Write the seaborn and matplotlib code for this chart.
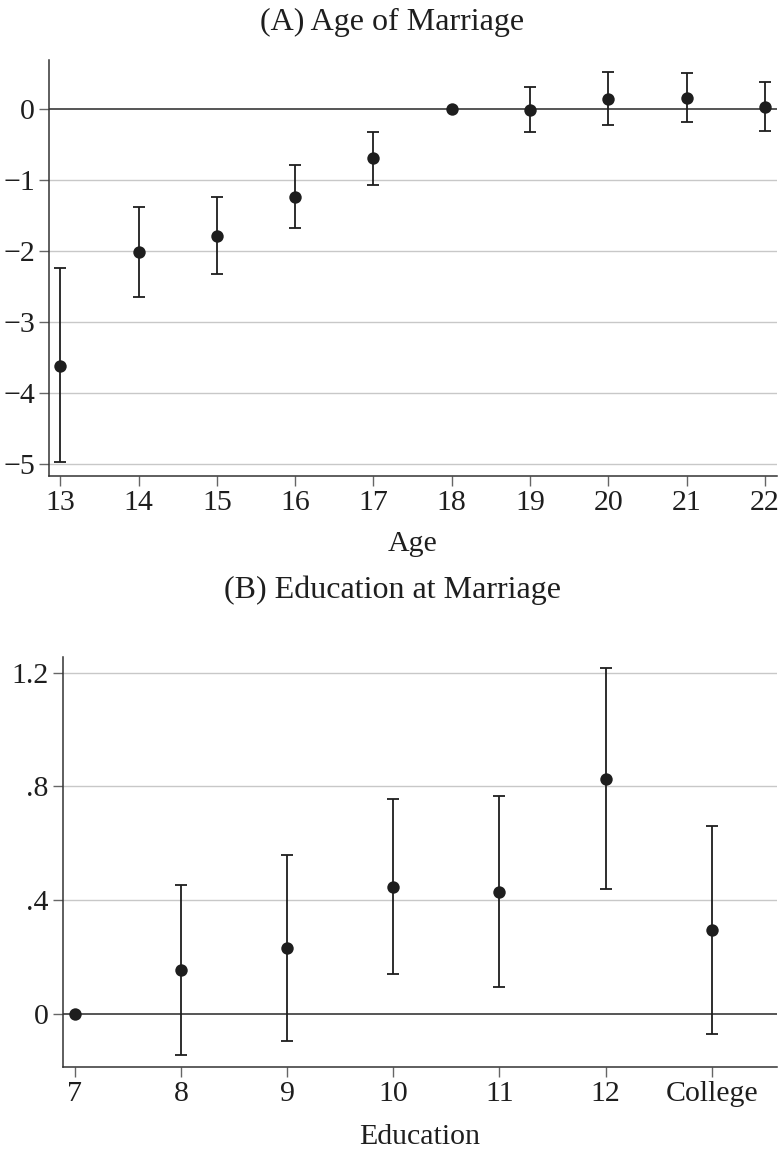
import numpy as np
import pandas as pd
import matplotlib
matplotlib.use("Agg")
import matplotlib.pyplot as plt
import seaborn as sns

# Panel A: age at marriage (18 is the omitted category)
ages = [13, 14, 15, 16, 17, 18, 19, 20, 21, 22]
age_coef = [-3.61, -2.01, -1.78, -1.23, -0.69, 0.0, -0.01, 0.15, 0.163, 0.037]
age_lo = [-4.97, -2.64, -2.32, -1.668, -1.066, np.nan, -0.32, -0.217, -0.179, -0.31]
age_hi = [-2.24, -1.38, -1.23, -0.785, -0.315, np.nan, 0.31, 0.52, 0.507, 0.39]
age_yticks = [0, -1, -2, -3, -4, -5]

# Panel B: education at marriage (7 is the omitted category)
edu_labels = ["7", "8", "9", "10", "11", "12", "College"]
edu_coef = [0.0, 0.155, 0.231, 0.447, 0.43, 0.827, 0.296]
edu_lo = [np.nan, -0.144, -0.095, 0.141, 0.095, 0.438, -0.07]
edu_hi = [np.nan, 0.453, 0.559, 0.756, 0.767, 1.216, 0.662]
edu_yticks = [0, 0.4, 0.8, 1.2]
edu_yticklabels = ["0", ".4", ".8", "1.2"]

sns.set_theme(style="white")
plt.rcParams["font.family"] = ["Liberation Serif", "DejaVu Serif"]
plt.rcParams["axes.unicode_minus"] = True

FS = 21.5
FS_TITLE = 23
INK = "#1e1e1e"
SPINE = "#333333"
GRID = "#c8c8c8"
ZERO = "#555555"

fig = plt.figure(figsize=(7.84, 11.49), dpi=100)
ax_a = fig.add_axes([0.0625, 0.5857, 0.928, 0.362])
ax_b = fig.add_axes([0.080, 0.0711, 0.9107, 0.3574])


def draw_panel(ax, x, coef, lo, hi):
    coef = np.asarray(coef, float)
    lo = np.asarray(lo, float)
    hi = np.asarray(hi, float)
    ok = ~np.isnan(lo)
    ax.errorbar(np.asarray(x)[ok], coef[ok],
                yerr=[coef[ok] - lo[ok], hi[ok] - coef[ok]],
                fmt="none", ecolor=INK, elinewidth=1.3, capsize=4.5,
                capthick=1.3, zorder=3)
    df = pd.DataFrame({"x": x, "y": coef})
    sns.scatterplot(data=df, x="x", y="y", ax=ax, color=INK, s=80,
                    edgecolor=INK, linewidth=0, zorder=4, legend=False)


def style_axes(ax, yticks):
    for s in ("top", "right"):
        ax.spines[s].set_visible(False)
    for s in ("left", "bottom"):
        ax.spines[s].set_color(SPINE)
        ax.spines[s].set_linewidth(1.1)
    ax.set_yticks(yticks)
    for t in yticks:
        if t == 0:
            ax.axhline(0, color=ZERO, lw=1.4, zorder=2)
        else:
            ax.axhline(t, color=GRID, lw=1.0, zorder=1)
    ax.tick_params(axis="both", which="major", direction="out", length=7,
                   width=1.0, color="#666666", labelsize=FS, labelcolor=INK,
                   left=True, bottom=True, pad=3)
    ax.set_ylabel("")


# Panel A
draw_panel(ax_a, ages, age_coef, age_lo, age_hi)
style_axes(ax_a, age_yticks)
ax_a.set_xticks(ages)
ax_a.set_xlim(12.856, 22.15)
ax_a.set_ylim(-5.165, 0.694)
ax_a.set_xlabel("Age", fontsize=FS, color=INK, labelpad=11)

# Panel B
edu_pos = np.arange(len(edu_labels))
draw_panel(ax_b, edu_pos, edu_coef, edu_lo, edu_hi)
style_axes(ax_b, edu_yticks)
ax_b.set_yticklabels(edu_yticklabels)
ax_b.set_xticks(edu_pos)
ax_b.set_xticklabels(edu_labels)
ax_b.set_xlim(-0.113, 6.612)
ax_b.set_ylim(-0.187, 1.256)
ax_b.set_xlabel("Education", fontsize=FS, color=INK, labelpad=12)

fig.text(0.5, 1 - 22 / 1149, "(A) Age of Marriage", ha="center", va="center",
         fontsize=FS_TITLE, color=INK)
fig.text(0.5, 1 - 590 / 1149, "(B) Education at Marriage", ha="center",
         va="center", fontsize=FS_TITLE, color=INK)

fig.savefig("out.png", dpi=100, facecolor="white")
